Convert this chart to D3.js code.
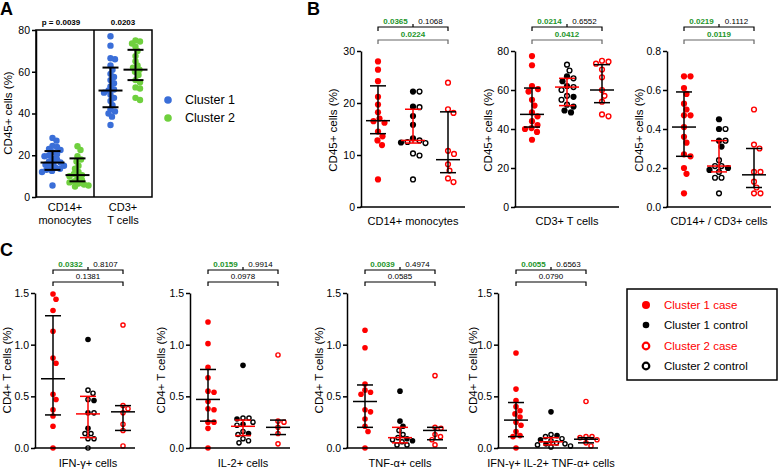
<!DOCTYPE html>
<html lang="en">
<head>
<meta charset="UTF-8">
<title></title>
<script src="https://d3js.org/d3.v7.min.js"></script>
<style>
body{margin:0;background:#fff;}
text{font-family:"Liberation Sans",Arial,sans-serif;fill:#000;}
</style>
</head>
<body>
<script>
// ---------- panel A data
const aCategories = [["CD14+","monocytes"],["CD3+","T cells"]];
const aCluster1 = [
  [28.3,27.0,24.5,24.0,23.0,22.5,21.5,20.5,20.0,19.5,18.5,18.0,17.0,16.5,16.0,15.5,15.0,14.5,14.0,13.5,13.0,12.5,12.0,5.5],
  [77,72.5,66.5,66,63,61,59,57.5,56,54.5,53,51.5,51,50,49,47.5,46,44,42,41,40,38.5,34.5]
];
const aCluster2 = [
  [24.3,22.5,19.5,18.0,17.0,15.0,13.5,12.0,11.0,10.5,10.0,9.0,8.0,7.5,7.0,6.5,6.0,5.5,5.0],
  [75,74.5,73.5,72,70,67.5,65,63,62,61,60,58.5,56,55,52.5,52,47.5,46.5]
];
const aMedian = [[16.5,10.5],[51,61]];
const aLow = [[13,7.5],[43,56]];
const aHigh = [[22,18.5],[62,70.5]];
const aPvalues = ["p = 0.0039","0.0203"];
const aLegend = ["Cluster 1","Cluster 2"];

// ---------- panel B data
const bTitles = ["CD14+ monocytes","CD3+ T cells","CD14+ / CD3+ cells"];
const bTicks = [[0,10,20,30],[0,20,40,60,80],[0,0.2,0.4,0.6,0.8]];
const bC1Case = [
  [28.0,26.4,24.2,21.2,19.7,18.2,17.0,16.5,16.2,14.5,13.6,12.8,11.9,5.3],
  [77.4,72.7,62,60.5,59.2,55,52,48.5,46.5,44,42,40.5,40,38.5,34.5],
  [0.67,0.67,0.61,0.58,0.53,0.50,0.47,0.47,0.41,0.36,0.33,0.27,0.26,0.20,0.17,0.07]
];
const bC1Control = [
  [22.2,19.3,17.5,15.8,13.2,12.4],
  [67,64.5,62,56.5,51.5,49.5,48.5],
  [0.45,0.40,0.34,0.31,0.20,0.19]
];
const bC2Control = [
  [22.2,19.2,12.8,12.3,12.5,10.3,9.9,5.3],
  [73,70,66,61.5,60,57,55,52.5],
  [0.40,0.34,0.24,0.21,0.21,0.18,0.15,0.15,0.07]
];
const bC2Case = [
  [23.9,18.8,18.1,10.8,10.2,8.2,7.0,5.5,4.8],
  [75,74.5,73.5,70.5,66.5,60,57,54,47.5,46.5],
  [0.50,0.32,0.30,0.18,0.18,0.13,0.10,0.07,0.07]
];
const bMedian = [[16.6,12.8,9.1],[47.5,61.5,60],[0.41,0.21,0.165]];
const bLow = [[14.1,12.3,6.6],[41,52,53.5],[0.26,0.18,0.10]];
const bHigh = [[23.3,18.8,18.3],[61,66,73],[0.59,0.34,0.30]];
const bPvalues = [["0.0365","0.1068","0.0224"],["0.0214","0.6552","0.0412"],["0.0219","0.1112","0.0119"]];
const bSignificant = [[true,false,true],[true,false,true],[true,false,true]];

// ---------- panel C data
const cTitles = ["IFN-\u03b3+ cells","IL-2+ cells","TNF-\u03b1+ cells","IFN-\u03b3+ IL-2+ TNF-\u03b1+ cells"];
const cTicks = [0,0.5,1.0,1.5];
const cC1Case = [
  [1.49,1.44,1.33,1.13,0.87,0.82,0.52,0.47,0.37,0.31,0.21,0.0],
  [1.22,1.01,0.78,0.68,0.55,0.54,0.45,0.38,0.37,0.25,0.25,0.19,0.0],
  [1.14,0.97,0.62,0.56,0.54,0.52,0.37,0.35,0.28,0.21,0.16,0.0],
  [0.92,0.57,0.46,0.40,0.36,0.33,0.30,0.25,0.22,0.16,0.12,0.11,0.0]
];
const cC1Control = [
  [1.05,0.46,0.34,0.19],
  [0.80,0.28,0.23,0.14],
  [0.55,0.26,0.21,0.09,0.07],
  [0.35,0.12,0.08,0.04]
];
const cC2Control = [
  [0.56,0.53,0.47,0.34,0.14,0.14,0.09,0.09,0.0],
  [0.29,0.29,0.25,0.22,0.16,0.13,0.09,0.07,0.05],
  [0.17,0.13,0.10,0.08,0.06,0.03,0.03],
  [0.13,0.11,0.09,0.07,0.05,0.04,0.03,0.02,0.01]
];
const cC2Case = [
  [1.19,0.41,0.38,0.34,0.23,0.17,0.02],
  [0.90,0.26,0.25,0.20,0.14,0.04],
  [0.70,0.20,0.19,0.13,0.11,0.08,0.03],
  [0.45,0.11,0.11,0.10,0.08,0.05,0.02]
];
const cMedian = [[0.67,0.33,0.35],[0.47,0.21,0.20],[0.45,0.10,0.17],[0.27,0.06,0.085]];
const cLow = [[0.32,0.10,0.17],[0.26,0.12,0.13],[0.20,0.05,0.08],[0.11,0.03,0.05]];
const cHigh = [[1.28,0.50,0.41],[0.76,0.27,0.27],[0.61,0.20,0.20],[0.44,0.10,0.10]];
const cPvalues = [["0.0332","0.8107","0.1381"],["0.0159","0.9914","0.0978"],["0.0039","0.4974","0.0585"],["0.0055","0.6563","0.0790"]];
const cSignificant = [[true,false,false],[true,false,false],[true,false,false],[true,false,false]];
const cLegend = ["Cluster 1 case","Cluster 1 control","Cluster 2 case","Cluster 2 control"];

// ---------- drawing
const W=779,H=470;
const RED="#ff0000", GREEN="#23952a", BLUE="#3a6ed8", LIME="#6fd03e";
const svg=d3.select("body").append("svg").attr("width",W).attr("height",H);

// simple beeswarm: keeps y, pushes points sideways until they are minD apart
function swarm(pts,cx,y,minD){
  const placed=[];
  pts.slice().sort((a,b)=>b.v-a.v).forEach(function(p){
    p.y=y(p.v);
    for(let k=0;k<400;k++){
      const dx=(k%2?1:-1)*Math.ceil(k/2)*0.5;
      const x=cx+dx;
      const hit=placed.some(q=>(q.x-x)*(q.x-x)+(q.y-p.y)*(q.y-p.y)<minD*minD);
      if(!hit){p.x=x;break;}
    }
    placed.push(p);
  });
  return pts;
}

function errBar(g,cx,y,med,lo,hi,color,sw,mw,ww){
  g.append("line").attr("x1",cx).attr("x2",cx).attr("y1",y(lo)).attr("y2",y(hi))
    .style("stroke",color).style("stroke-width",sw);
  [[lo,ww],[hi,ww],[med,mw]].forEach(function(d){
    g.append("line").attr("x1",cx-d[1]).attr("x2",cx+d[1]).attr("y1",y(d[0])).attr("y2",y(d[0]))
      .style("stroke",color).style("stroke-width",sw);
  });
}

function yAxis(g,x0,y,ticks,fmt){
  const ax=g.append("g").attr("transform","translate("+x0+",0)")
    .call(d3.axisLeft(y).tickValues(ticks).tickFormat(fmt).tickSize(4).tickSizeOuter(0).tickPadding(2));
  ax.select(".domain").style("stroke","#000").style("stroke-width",1.5);
  ax.selectAll(".tick line").style("stroke","#000").style("stroke-width",1.5);
  ax.selectAll(".tick text").style("font-size","10.5px").style("font-family","'Liberation Sans',Arial,sans-serif").attr("fill","#000");
}

function yLabel(g,x,yc,txt){
  g.append("text").attr("transform","translate("+x+","+yc+") rotate(-90)")
    .attr("text-anchor","middle").style("font-size","11.5px").text(txt);
}

function letter(x,y,t){
  svg.append("text").attr("x",x).attr("y",y).style("font-size","18px").style("font-weight","bold").text(t);
}

// ---------- panel A
letter(0,15,"A");
(function(){
  const g=svg.append("g");
  const y=d3.scaleLinear().domain([0,80]).range([197,30]);
  const xb=d3.scaleBand().domain([0,1]).range([36,152]);
  const off=12.5;
  [0,1].forEach(function(c){
    const cx=xb(c)+xb.bandwidth()/2;
    [[aCluster1[c],BLUE,-off],[aCluster2[c],LIME,off]].forEach(function(s){
      const pts=swarm(s[0].map(v=>({v:v})),cx+s[2],y,4.6);
      g.selectAll(null).data(pts).enter().append("circle")
        .attr("cx",d=>d.x).attr("cy",d=>d.y).attr("r",3.2).style("fill",s[1]);
    });
    [-off,off].forEach(function(o,si){
      errBar(g,cx+o,y,aMedian[c][si],aLow[c][si],aHigh[c][si],"#000",2,12,8);
    });
    g.append("text").attr("x",cx).attr("y",211).attr("text-anchor","middle").style("font-size","11px").text(aCategories[c][0]);
    g.append("text").attr("x",cx).attr("y",224).attr("text-anchor","middle").style("font-size","11px").text(aCategories[c][1]);
    g.append("text").attr("x",cx-(c==0?4:0)).attr("y",25).attr("text-anchor","middle").style("font-size","8px").style("font-weight","bold").text(aPvalues[c]);
  });
  g.append("rect").attr("x",36).attr("y",30).attr("width",116).attr("height",167)
    .style("fill","none").style("stroke","#000").style("stroke-width",1.5);
  g.append("line").attr("x1",xb(1)).attr("x2",xb(1)).attr("y1",30).attr("y2",197).style("stroke","#000").style("stroke-width",1.5);
  yAxis(g,36,y,[0,20,40,60,80],d3.format("d"));
  yLabel(g,12,113,"CD45+ cells (%)");
  [BLUE,LIME].forEach(function(c,i){
    g.append("circle").attr("cx",168).attr("cy",100+i*18).attr("r",3.8).style("fill",c);
    g.append("text").attr("x",185).attr("y",104+i*18).style("font-size","12.5px").text(aLegend[i]);
  });
})();

// ---------- dot plot used by panels B and C
function dotPlot(o){
  const g=svg.append("g");
  const y=d3.scaleLinear().domain([0,o.max]).range([o.yBot,o.yTop]);
  const x=d3.scalePoint().domain([0,1,2]).range([o.x0+o.pad,o.x0+o.pad+70]);
  const r=o.r;
  const groups=[
    o.c1case.map(v=>({v:v,k:"c1case"})),
    o.c1ctrl.map(v=>({v:v,k:"c1ctrl"})).concat(o.c2ctrl.map(v=>({v:v,k:"c2ctrl"}))),
    o.c2case.map(v=>({v:v,k:"c2case"}))
  ];
  groups.forEach(function(pts,gi){
    swarm(pts,x(gi),y,r*2.05);
    g.selectAll(null).data(pts).enter().append("circle")
      .attr("cx",d=>d.x).attr("cy",d=>d.y)
      .attr("r",d=>d.k=="c1case"||d.k=="c1ctrl"?r:r-0.7)
      .style("fill",d=>d.k=="c1case"?RED:d.k=="c1ctrl"?"#000":"#fff")
      .style("stroke",d=>d.k=="c2case"?RED:d.k=="c2ctrl"?"#000":"none")
      .style("stroke-width",1.4);
  });
  [0,1,2].forEach(function(gi){
    errBar(g,x(gi),y,o.med[gi],o.lo[gi],o.hi[gi],gi==1?RED:"#000",1.5,12,8);
  });
  yAxis(g,o.x0,y,o.ticks,o.fmt);
  g.append("line").attr("x1",o.x0-0.75).attr("x2",o.x0+o.len).attr("y1",o.yBot).attr("y2",o.yBot)
    .style("stroke","#000").style("stroke-width",1.5);
  g.append("text").attr("x",x(1)).attr("y",o.titleY).attr("text-anchor","middle").style("font-size","11px").text(o.title);
  yLabel(g,o.labelX,o.labelY,o.yTitle);
  // brackets
  const t=o.brTop,l=o.brLow;
  g.append("path").attr("d","M"+x(0)+","+(t+4)+"V"+t+"H"+x(2)+"V"+(t+4)+"M"+x(1)+","+t+"V"+(t-3))
    .style("fill","none").style("stroke","#000").style("stroke-width",1.2);
  g.append("path").attr("d","M"+x(0)+","+(l+4)+"V"+l+"H"+x(2)+"V"+(l+4))
    .style("fill","none").style("stroke",o.lowColor).style("stroke-width",1.2);
  const pos=[[(x(0)+x(1))/2,t-3],[(x(1)+x(2))/2,t-3],[x(1),l-3]];
  pos.forEach(function(p,i){
    g.append("text").attr("x",p[0]).attr("y",p[1]).attr("text-anchor","middle")
      .style("font-size","8px").style("font-weight",o.sig[i]?"bold":"normal")
      .style("fill",o.sig[i]?GREEN:"#000").text(o.p[i]);
  });
}

// ---------- panel B
letter(307,15,"B");
const bAxisX=[361,515,667];
const bLabelX=[337,492,643];
[0,1,2].forEach(function(i){
  dotPlot({x0:bAxisX[i],pad:17,len:104,yTop:51,yBot:207,max:bTicks[i][bTicks[i].length-1],
    ticks:bTicks[i],fmt:i==2?d3.format(".1f"):d3.format("d"),r:3.1,
    c1case:bC1Case[i],c1ctrl:bC1Control[i],c2ctrl:bC2Control[i],c2case:bC2Case[i],
    med:bMedian[i],lo:bLow[i],hi:bHigh[i],title:bTitles[i],titleY:225,
    labelX:bLabelX[i],labelY:130,yTitle:"CD45+ cells (%)",
    brTop:27,brLow:40,lowColor:"#666",p:bPvalues[i],sig:bSignificant[i]});
});

// ---------- panel C
letter(0,256,"C");
const cAxisX=[35,190,347,498];
const cLabelX=[11,165,323,477];
[0,1,2,3].forEach(function(i){
  dotPlot({x0:cAxisX[i],pad:18,len:100,yTop:293,yBot:448,max:1.5,
    ticks:cTicks,fmt:d3.format(".1f"),r:2.8,
    c1case:cC1Case[i],c1ctrl:cC1Control[i],c2ctrl:cC2Control[i],c2case:cC2Case[i],
    med:cMedian[i],lo:cLow[i],hi:cHigh[i],title:cTitles[i],titleY:467,
    labelX:cLabelX[i],labelY:370,yTitle:"CD4+ T cells (%)",
    brTop:270,brLow:282,lowColor:"#000",p:cPvalues[i],sig:cSignificant[i]});
});

// legend C
(function(){
  const g=svg.append("g");
  g.append("rect").attr("x",627).attr("y",289).attr("width",150).attr("height",91)
    .style("fill","none").style("stroke","#000").style("stroke-width",1.5);
  const kinds=["c1case","c1ctrl","c2case","c2ctrl"];
  const ys=[305,325,346,366];
  kinds.forEach(function(k,i){
    const open=k=="c2case"||k=="c2ctrl";
    const col=k=="c1case"||k=="c2case"?RED:"#000";
    g.append("circle").attr("cx",646).attr("cy",ys[i]).attr("r",open?3.3:(k=="c1case"?4:3.3))
      .style("fill",open?"#fff":col).style("stroke",open?col:"none").style("stroke-width",2.2);
    g.append("text").attr("x",664).attr("y",ys[i]+4).style("font-size","11.5px")
      .style("fill",col).text(cLegend[i]);
  });
})();
</script>
</body>
</html>
